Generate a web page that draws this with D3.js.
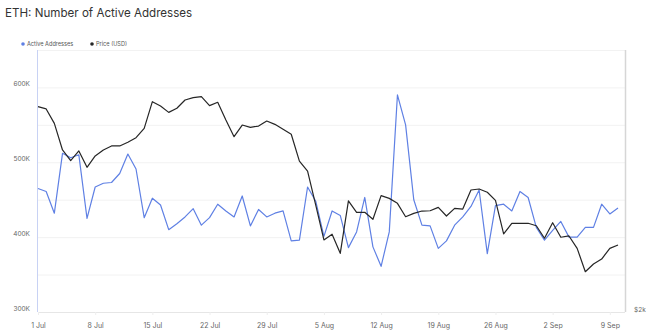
<!DOCTYPE html>
<html>
<head>
<meta charset="utf-8">
<script src="https://cdn.jsdelivr.net/npm/d3@7"></script>
<style>
  body { margin: 0; background: #fff; }
  svg { display: block; font-family: Inter, "Noto Sans", sans-serif; }
</style>
</head>
<body>
<div id="chart"></div>
<script>
// daily values, 1 Jul to 10 Sep
const startDate = new Date(2024, 6, 1);
const activeAddresses = [
  465, 461, 432, 512, 506, 510, 425, 467, 472, 473, 485, 511, 491, 426, 452,
  443, 410, 418, 427, 438, 416, 426, 444, 435, 427, 455, 415, 437, 427, 432,
  435, 395, 396, 467, 448, 401, 435, 429, 386, 407, 453, 387, 361, 407, 590,
  550, 450, 416, 415, 385, 395, 416, 427, 441, 463, 378, 442, 444, 435, 461,
  453, 413, 396, 409, 421, 400, 400, 413, 413, 444, 431, 439
].map(d => d * 1000);
const priceUsd = [
  3442, 3426, 3325, 3138, 3063, 3131, 3016, 3096, 3138, 3166, 3166, 3192, 3224, 3290, 3477,
  3447, 3402, 3431, 3489, 3505, 3512, 3449, 3473, 3348, 3231, 3313, 3297, 3306, 3341, 3318,
  3283, 3248, 3060, 2990, 2751, 2506, 2546, 2412, 2780, 2700, 2700, 2651, 2817, 2798, 2763,
  2669, 2693, 2709, 2711, 2735, 2674, 2728, 2723, 2857, 2864, 2841, 2784, 2548, 2623, 2623,
  2623, 2606, 2518, 2627, 2525, 2534, 2447, 2283, 2337, 2372, 2447, 2471
];
const leftTicks = [300000, 400000, 500000, 600000];
const gridTicks = [300000, 350000, 400000, 450000, 500000, 550000, 600000, 650000];
const xTickDates = ["2024-07-01", "2024-07-08", "2024-07-15", "2024-07-22", "2024-07-29",
  "2024-08-05", "2024-08-12", "2024-08-19", "2024-08-26", "2024-09-02", "2024-09-09"];
const seriesNames = ["Active Addresses", "Price (USD)"];
const seriesColors = ["#5f80e4", "#262626"];

const data = activeAddresses.map((v, i) => ({
  date: d3.timeDay.offset(startDate, i),
  addr: v,
  price: priceUsd[i]
}));

const width = 653, height = 332;
const margin = { left: 38, right: 618, top: 50, bottom: 312 };

const svg = d3.select("#chart").append("svg")
  .attr("width", width)
  .attr("height", height);

svg.append("text")
  .attr("x", 5)
  .attr("y", 17)
  .attr("font-size", 11.6)
  .attr("fill", "#333")
  .text("ETH: Number of Active Addresses");

// legend
const legend = svg.append("g").attr("transform", "translate(23,44)");
const legX = [0, 69];
seriesNames.forEach((name, i) => {
  legend.append("circle")
    .attr("cx", legX[i]).attr("cy", 0).attr("r", 1.8)
    .attr("fill", seriesColors[i]);
  legend.append("text")
    .attr("x", legX[i] + 4).attr("y", 2)
    .attr("font-size", 5.6)
    .attr("fill", "#555")
    .text(name);
});

const x = d3.scaleTime()
  .domain([startDate, d3.timeDay.offset(startDate, activeAddresses.length - 1)])
  .range([margin.left, margin.right]);
const y = d3.scaleLinear().domain([300000, 650000]).range([margin.bottom, margin.top]);
const yPrice = d3.scaleLinear().domain([2000, 3840]).range([margin.bottom, margin.top]);

// grid
svg.append("g")
  .selectAll("line")
  .data(gridTicks)
  .join("line")
  .attr("x1", margin.left).attr("x2", 625)
  .attr("y1", d => y(d) + 0.5).attr("y2", d => y(d) + 0.5)
  .attr("stroke", (d, i) => i == 0 ? "#e6e6e6" : "#f2f2f2")
  .attr("stroke-width", 1);

// left axis labels
svg.append("g")
  .selectAll("text")
  .data(leftTicks)
  .join("text")
  .attr("x", 30)
  .attr("y", d => y(d) - 1)
  .attr("text-anchor", "end")
  .attr("font-size", 6.5)
  .attr("fill", "#666")
  .text(d => d3.format(".0f")(d / 1000) + "K");

svg.append("line")
  .attr("x1", 37.5).attr("x2", 37.5)
  .attr("y1", margin.top).attr("y2", margin.bottom)
  .attr("stroke", "#c8d2f4")
  .attr("stroke-width", 1);

svg.append("line")
  .attr("x1", 625.5).attr("x2", 625.5)
  .attr("y1", margin.top).attr("y2", margin.bottom)
  .attr("stroke", "#d6d6d6")
  .attr("stroke-width", 1.5);

svg.append("text")
  .attr("x", 634)
  .attr("y", 312)
  .attr("font-size", 6.5)
  .attr("fill", "#666")
  .text("$" + d3.format(".0f")(yPrice.domain()[0] / 1000) + "k");

// x axis
const xTicks = xTickDates.map(d => d3.timeParse("%Y-%m-%d")(d));
const xAxis = svg.append("g")
  .attr("transform", `translate(0,${margin.bottom})`)
  .call(d3.axisBottom(x).tickValues(xTicks).tickSize(3).tickPadding(8)
    .tickFormat(d3.timeFormat("%-d %b")));
xAxis.select(".domain").remove();
xAxis.selectAll(".tick line").attr("stroke", "#eeeeee");
xAxis.selectAll(".tick text")
  .attr("font-size", 7)
  .attr("fill", "#666")
  .attr("font-family", "Inter, 'Noto Sans', sans-serif");

// lines
svg.append("path")
  .datum(data)
  .attr("fill", "none")
  .attr("stroke", seriesColors[0])
  .attr("stroke-width", 1.2)
  .attr("stroke-linejoin", "round")
  .attr("d", d3.line().x(d => x(d.date)).y(d => y(d.addr)));

svg.append("path")
  .datum(data)
  .attr("fill", "none")
  .attr("stroke", seriesColors[1])
  .attr("stroke-width", 1.2)
  .attr("stroke-linejoin", "round")
  .attr("d", d3.line().x(d => x(d.date)).y(d => yPrice(d.price)));
</script>
</body>
</html>
